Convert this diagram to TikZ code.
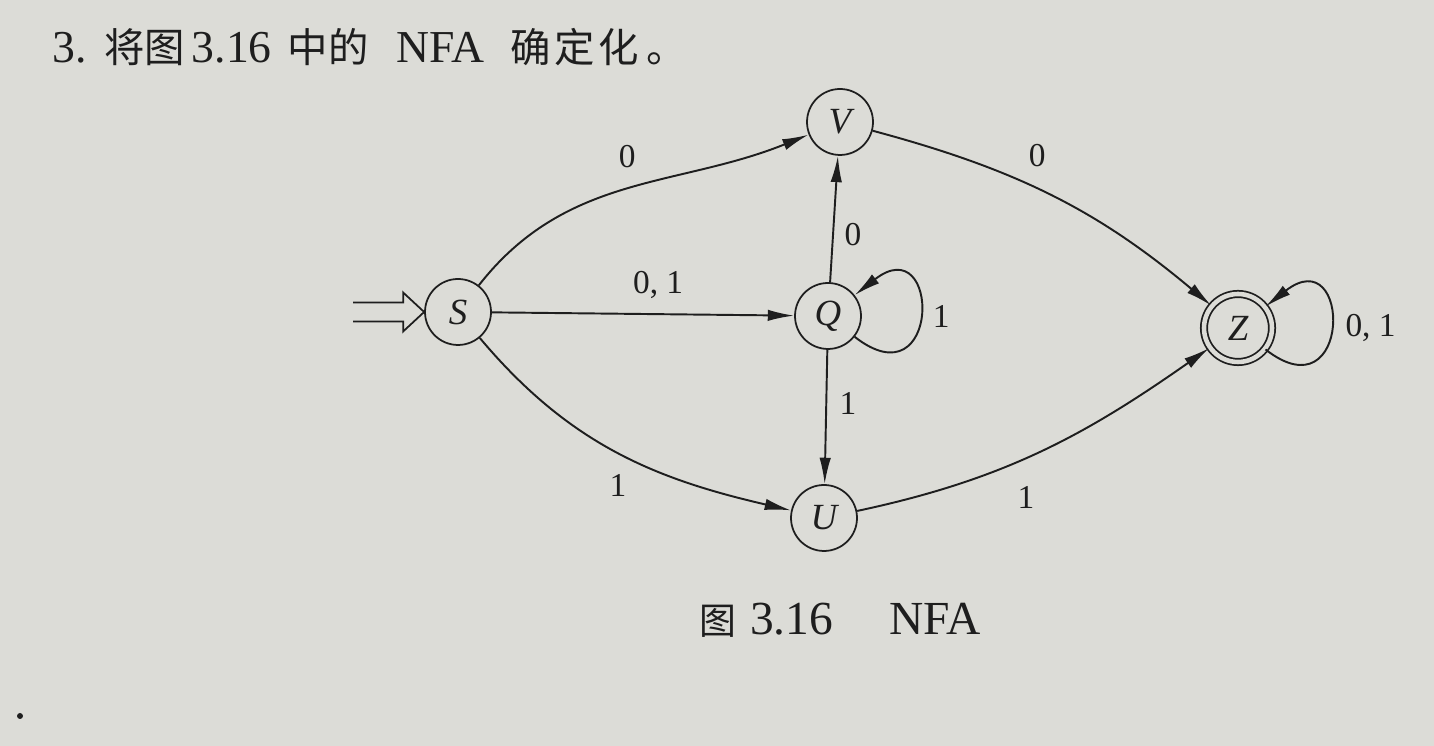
\documentclass[tikz,border=0pt]{standalone}
\usepackage{fontspec}
\setmainfont{Liberation Serif}
\newfontfamily\cjk{Noto Sans CJK SC}
\usetikzlibrary{arrows.meta}

\definecolor{paper}{RGB}{220,220,215}
\definecolor{ink}{RGB}{30,30,30}

\tikzset{
  state/.style={circle, draw=ink, line width=1pt, minimum size=1.32cm, inner sep=0pt,
                font=\fontsize{21}{21}\selectfont\itshape, text=ink},
  accept/.style={state, double=paper, double distance=2.6pt, minimum size=1.36cm},
  trans/.style={draw=ink, line width=1.1pt, -{Latex[length=15pt,width=6.5pt]}},
  lab/.style={font=\fontsize{19}{19}\selectfont, text=ink, inner sep=2pt},
}

\begin{document}
\begin{tikzpicture}[x=0.02cm, y=0.02cm]

    \fill[paper] (0,0) rectangle (1434,746);

    % title and caption
    \node[anchor=base west, text=ink] (title) at (46,683)
      {\fontsize{26}{30}\selectfont 3.\hspace{10pt}{\cjk\fontsize{23}{30}\selectfont 将图}\hspace{4pt}3.16\hspace{9pt}{\cjk\fontsize{23}{30}\selectfont 中的}\hspace{16pt}NFA\hspace{15pt}{\cjk\fontsize{23}{30}\selectfont 确\hspace{2pt}定\hspace{2pt}化\hspace{4pt}。}};
    \node[anchor=base west, text=ink] (caption) at (693,111)
      {{\cjk\fontsize{21}{24}\selectfont 图}\hspace{8pt}{\fontsize{27}{30}\selectfont 3.16\hspace{32pt}NFA}};

    % states
    \node[state] (S) at (458,434) {S};
    \node[state] (V) at (840,624) {V};
    \node[state] (Q) at (828,430) {Q};
    \node[state] (U) at (824,228) {U};
    \node[accept] (Z) at (1238,418) {Z};

    % start arrow
    \draw[ink, line width=1pt, line join=miter] (S.west) ++(-71,9.5) -- ++(50,0) -- ++(0,10)
      -- (S.west) -- ++(-21,-19.5) -- ++(0,10) -- ++(-50,0);

    % transitions
    \draw[trans] (S) to[out=52, in=202] node[lab, pos=0.5, above=9pt] {0} (V);
    \draw[trans] (S) -- node[lab, pos=0.55, above=6pt] {0, 1} (Q);
    \draw[trans] (S) to[out=-50, in=167] node[lab, pos=0.5, below=10pt] {1} (U);
    \draw[trans] (Q) -- node[lab, pos=0.38, right=4pt] {0} (V);
    \draw[trans] (Q) -- node[lab, pos=0.4, right=5pt] {1} (U);
    \draw[trans] (V) to[out=-15, in=140] node[lab, pos=0.45, above=10pt] {0} (Z);
    \draw[trans] (U) to[out=12, in=215] node[lab, pos=0.45, below=14pt] {1} (Z);
    \draw[trans] (Q) to[out=-38, in=38, distance=2.2cm] node[lab, right=5pt] {1} (Q);
    \draw[trans] (Z) to[out=-38, in=38, distance=2.2cm] node[lab, right=6pt] {0, 1} (Z);

    \fill[ink] (20,30) circle[radius=3];

\end{tikzpicture}
\end{document}
